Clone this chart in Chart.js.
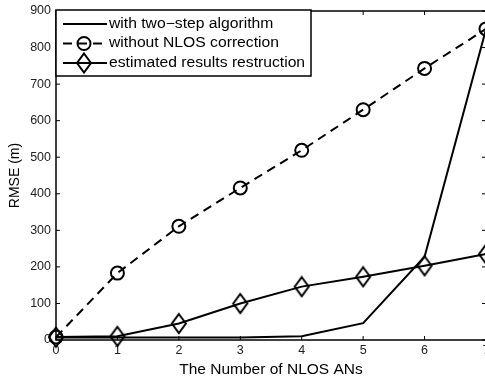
<!DOCTYPE html>
<html>
<head>
<meta charset="utf-8">
<script src="https://cdn.jsdelivr.net/npm/chart.js@4.4.0/dist/chart.umd.min.js"></script>
<style>
  html, body { margin: 0; padding: 0; background: #fff; overflow: hidden; }
  #wrap { width: 520px; height: 379px; }
</style>
</head>
<body>
<div id="wrap"><canvas id="chart" width="520" height="379"></canvas></div>
<script>
const anCounts = [0, 1, 2, 3, 4, 5, 6, 7];
const twoStep = [7, 7, 7, 7, 10, 46, 228, 850];
const noCorrection = [8, 183, 311, 416, 519, 630, 743, 851];
const restruction = [8, 10, 45, 100, 146, 173, 203, 235];
const yTicks = [0, 100, 200, 300, 400, 500, 600, 700, 800, 900];

const legendItems = [
    { text: "with two\u2212step algorithm", dash: [], marker: "none" },
    { text: "without NLOS correction", dash: [9, 6], marker: "circle" },
    { text: "estimated results restruction", dash: [], marker: "diamond" },
];

const FONT = "'Liberation Sans', Arial, sans-serif";

function toPoints(ys) {
    return anCounts.map((x, i) => ({ x: x, y: ys[i] }));
}

function drawMarker(ctx, kind, x, y) {
    ctx.beginPath();
    if (kind === "circle") {
        ctx.arc(x, y, 6.5, 0, Math.PI * 2);
    } else if (kind === "diamond") {
        ctx.moveTo(x, y - 9.5);
        ctx.lineTo(x + 7, y);
        ctx.lineTo(x, y + 9.5);
        ctx.lineTo(x - 7, y);
        ctx.closePath();
    } else {
        return;
    }
    ctx.stroke();
}

// matlab's diamond is taller than wide, so use a small canvas as point style
const diamondImg = document.createElement("canvas");
diamondImg.width = 18;
diamondImg.height = 23;
(function () {
    const d = diamondImg.getContext("2d");
    d.strokeStyle = "#000";
    d.lineWidth = 2;
    d.lineJoin = "miter";
    drawMarker(d, "diamond", 9, 11.5);
})();

// frame, inward ticks and the boxed legend
const framePlugin = {
    id: "frame",
    afterDraw(chart) {
        const ctx = chart.ctx;
        const a = chart.chartArea;
        const xs = chart.scales.x;
        const ys = chart.scales.y;
        ctx.save();
        ctx.strokeStyle = "#000";
        ctx.lineWidth = 1.5;
        ctx.setLineDash([]);
        ctx.strokeRect(a.left, a.top, a.right - a.left, a.bottom - a.top);
        ctx.lineWidth = 1;
        anCounts.forEach(v => {
            const px = xs.getPixelForValue(v);
            ctx.beginPath();
            ctx.moveTo(px, a.bottom); ctx.lineTo(px, a.bottom - 4);
            ctx.moveTo(px, a.top); ctx.lineTo(px, a.top + 4);
            ctx.stroke();
        });
        yTicks.forEach(v => {
            const py = ys.getPixelForValue(v);
            ctx.beginPath();
            ctx.moveTo(a.left, py); ctx.lineTo(a.left + 4, py);
            ctx.moveTo(a.right, py); ctx.lineTo(a.right - 4, py);
            ctx.stroke();
        });

        // legend box
        const bx = a.left, by = 10, bw = 255, bh = 66;
        ctx.fillStyle = "#fff";
        ctx.fillRect(bx, by, bw, bh);
        ctx.lineWidth = 1.5;
        ctx.strokeRect(bx, by, bw, bh);
        ctx.textBaseline = "middle";
        legendItems.forEach((item, i) => {
            const ly = by + 14 + i * 19.5;
            ctx.strokeStyle = "#000";
            ctx.lineWidth = 2;
            ctx.setLineDash(item.dash);
            ctx.beginPath();
            ctx.moveTo(bx + 7, ly);
            ctx.lineTo(bx + 51, ly);
            ctx.stroke();
            ctx.setLineDash([]);
            drawMarker(ctx, item.marker, bx + 28, ly);
            ctx.save();
            ctx.translate(bx + 53, ly);
            ctx.scale(1.12, 1);
            ctx.font = "14px " + FONT;
            ctx.fillStyle = "#000";
            ctx.fillText(item.text, 0, 0);
            ctx.restore();
        });
        ctx.restore();
    }
};

const ctx = document.getElementById("chart").getContext("2d");
new Chart(ctx, {
    type: "line",
    data: {
        datasets: [
            {
                label: "with two-step algorithm",
                data: toPoints(twoStep),
                borderColor: "#000",
                borderWidth: 2,
                pointRadius: 0,
            },
            {
                label: "without NLOS correction",
                data: toPoints(noCorrection),
                borderColor: "#000",
                borderWidth: 2,
                borderDash: [9, 6],
                pointStyle: "circle",
                pointRadius: 6.5,
                pointBorderWidth: 2,
                pointBackgroundColor: "rgba(0,0,0,0)",
                pointBorderColor: "#000",
            },
            {
                label: "estimated results restruction",
                data: toPoints(restruction),
                borderColor: "#000",
                borderWidth: 2,
                pointStyle: diamondImg,
                pointRadius: 9,
            },
        ],
    },
    options: {
        responsive: false,
        animation: false,
        clip: false,
        layout: { padding: { left: 0, top: 7, right: 34, bottom: 0 } },
        plugins: { legend: { display: false }, tooltip: { enabled: false } },
        scales: {
            x: {
                type: "linear",
                min: 0,
                max: 7,
                grid: { display: false, drawTicks: false },
                border: { display: false },
                afterBuildTicks: s => { s.ticks = anCounts.map(v => ({ value: v })); },
                afterFit: s => { s.height = 39; s.paddingLeft = 0; s.paddingRight = 0; },
                ticks: { color: "#222", padding: 3, maxRotation: 0, font: { size: 12.5, family: FONT } },
                title: { display: true, text: "The Number of NLOS ANs", color: "#000", padding: { top: 0, bottom: 0 }, font: { size: 15.5, family: FONT } },
            },
            y: {
                min: 0,
                max: 900,
                grid: { display: false, drawTicks: false },
                border: { display: false },
                afterBuildTicks: s => { s.ticks = yTicks.map(v => ({ value: v })); },
                afterFit: s => { s.width = 56; s.paddingTop = 0; s.paddingBottom = 0; },
                ticks: { color: "#222", padding: 5, font: { size: 12.5, family: FONT } },
                title: { display: true, text: "RMSE (m)", color: "#000", padding: { top: 7, bottom: 0 }, font: { size: 14, family: FONT } },
            },
        },
    },
    plugins: [framePlugin],
});
</script>
</body>
</html>
